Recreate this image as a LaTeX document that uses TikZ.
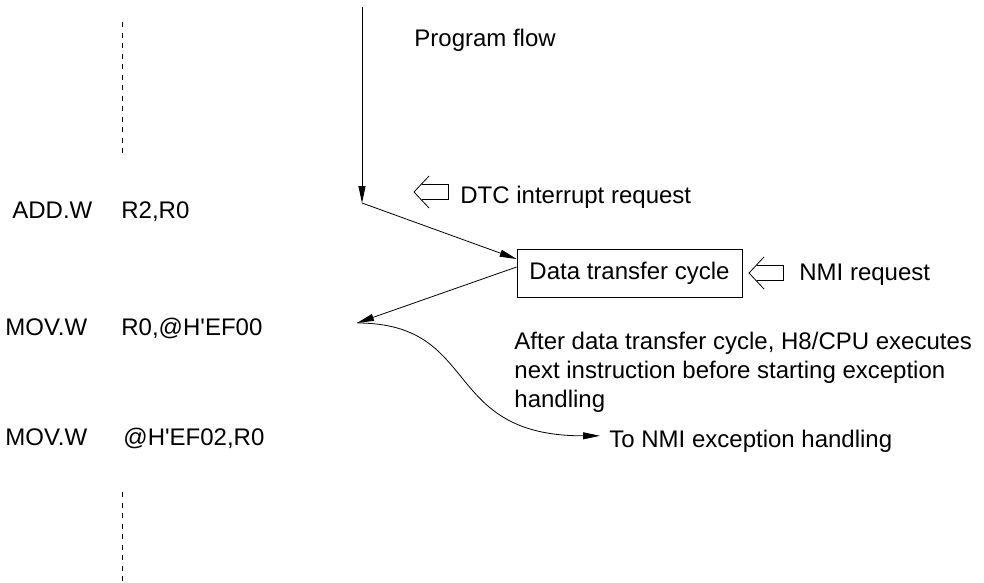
\documentclass[tikz,border=0pt]{standalone}
\usepackage{fontspec}
\setmainfont{Liberation Sans}
\usepackage{tikz}
\usetikzlibrary{positioning,arrows.meta,calc}

\tikzset{
  reqarrow/.pic={
    \draw (15,-16) -- (0,0) -- (15,16);
    \draw (7.5,-7.5) -- (34,-7.5) -- (34,7.5) -- (7.5,7.5);
  },
  lbl/.style={inner sep=0pt, anchor=base west},
  flow/.style={-{Triangle[length=17pt,width=7pt]}},
  ellipsis/.style={dash pattern=on 5pt off 5.5pt},
}

\begin{document}
\begin{tikzpicture}[x=1pt, y=-1pt, line width=0.8pt, font=\fontsize{24}{29}\selectfont]
    \useasboundingbox (0,0) rectangle (984,582);
    \draw[ellipsis] (122,22) -- (122,157);
    \draw[ellipsis] (122,492) -- (122,582);
    % instruction listing
    \node[lbl] (add) at (12,218) {ADD.W};
    \node[lbl] (addop) at (121,218) {R2,R0};
    \node[lbl] (mova) at (5,335) {MOV.W};
    \node[lbl] (movaop) at (121,335) {R0,@H\textquotesingle EF00};
    \node[lbl] (movb) at (5,445) {MOV.W};
    \node[lbl] (movbop) at (123,445) {@H\textquotesingle EF02,R0};
    % program flow
    \coordinate (flowtop) at (362,7);
    \coordinate (bend) at (362,203);
    \coordinate (ret) at (357,323);
    \node[lbl] (flowlab) at (414,46) {Program flow};
    \draw[flow] (flowtop) -- (bend);
    \node[draw, minimum width=225pt, minimum height=48pt, inner sep=0pt] (xfer) at (629.5,273) {Data transfer cycle};
    \draw[flow] (bend) -- ([yshift=14pt]xfer.west);
    \draw[flow] ([yshift=6pt]xfer.west) -- (ret);
    % requests
    \pic (dtcarrow) at (414,192) {reqarrow};
    \node[lbl] (dtc) at (460,203) {DTC interrupt request};
    \pic (nmiarrow) at (749,273) {reqarrow};
    \node[lbl] (nmi) at (799,280) {NMI request};
    \node[inner sep=0pt, anchor=north west, align=left] (note) at (514,332)
      {After data transfer cycle, H8/CPU executes\\next instruction before starting exception\\handling};
    \node[lbl] (nmix) at (609,447) {To NMI exception handling};
    \draw[flow] (ret) .. controls (482,323) and (440,436) .. ([xshift=-9pt,yshift=5pt]nmix.west);
\end{tikzpicture}
\end{document}
